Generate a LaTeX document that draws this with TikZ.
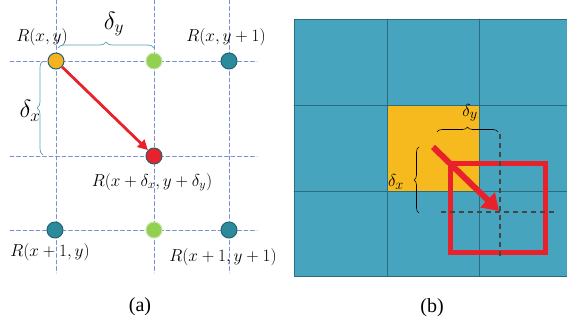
\documentclass[tikz,border=0pt]{standalone}
\usepackage{fontspec}
\setmainfont{Liberation Serif}
\usetikzlibrary{arrows.meta,decorations.pathreplacing}
\definecolor{gridblue}{RGB}{122,142,212}
\definecolor{braceteal}{RGB}{80,163,181}
\definecolor{orangept}{RGB}{246,178,33}
\definecolor{greenpt}{RGB}{146,208,80}
\definecolor{greenedge}{RGB}{197,230,168}
\definecolor{tealpt}{RGB}{43,138,156}
\definecolor{darkteal}{RGB}{35,100,115}
\definecolor{redpt}{RGB}{232,33,43}
\definecolor{cellteal}{RGB}{71,164,190}
\definecolor{cellline}{RGB}{42,109,127}
\definecolor{cellyellow}{RGB}{246,186,31}
\definecolor{darkdash}{RGB}{70,70,70}
\begin{document}
\begin{tikzpicture}[x=1pt,y=-1pt,line cap=round,line join=round,>=stealth,
    gridline/.style={gridblue,line width=0.8pt,dash pattern=on 4pt off 2.5pt},
    pt/.style={circle,minimum size=16pt,inner sep=0pt,line width=1pt},
    lbl/.style={font=\fontsize{17}{19}\selectfont},
    bigdelta/.style={font=\fontsize{25}{27}\selectfont},
    smalldelta/.style={font=\fontsize{19}{21}\selectfont},
    capt/.style={font=\fontsize{20}{22}\selectfont},
    bracea/.style={draw=braceteal,line width=0.7pt,decorate,decoration={brace,amplitude=6pt}},
    braceb/.style={draw=black,line width=0.6pt,decorate,decoration={brace,amplitude=5pt}},
    dashb/.style={darkdash,line width=1.6pt,line cap=butt,dash pattern=on 5pt off 4pt}]
\useasboundingbox (0,0) rectangle (567,329);
% (a) sampling grid
\foreach \x in {56,154,229}
  \draw[gridline] (\x,0) -- (\x,273);
\foreach \y in {61,156,230}
  \draw[gridline] (10,\y) -- (257,\y);
\draw[bracea] (58,48) -- (154,48);
\draw[bracea] (43,155) -- (43,61);
\node[pt,fill=orangept,draw=darkteal] (rxy) at (56,61) {};
\node[pt,fill=greenpt,draw=greenedge] (gtop) at (154,61) {};
\node[pt,fill=tealpt,draw=darkteal] (rxy1) at (229,61) {};
\node[pt,fill=redpt,draw=darkteal] (rd) at (154,156) {};
\node[pt,fill=tealpt,draw=darkteal] (rx1y) at (55,230) {};
\node[pt,fill=greenpt,draw=greenedge] (gbot) at (154,230) {};
\node[pt,fill=tealpt,draw=darkteal] (rx1y1) at (229,230) {};
\draw[redpt,line width=2.8pt,line cap=butt,-{Triangle[length=10pt,width=10pt]}] (rxy) -- (rd);
\node[lbl] (lrxy) at (42,37) {$R(x, y)$};
\node[lbl] (lrxy1) at (226,37) {$R(x, y+1)$};
\node[lbl] (lrd) at (152,182) {$R(x+\delta_x, y+\delta_y)$};
\node[lbl] (lrx1y) at (50,252) {$R(x+1, y)$};
\node[lbl] (lrx1y1) at (223,257) {$R(x+1, y+1)$};
\node[bigdelta] (ldy) at (114,24) {$\delta_y$};
\node[bigdelta] (ldx) at (30,111) {$\delta_x$};
\node[capt] (capa) at (140,307) {(a)};
% (b) feature map
\fill[cellteal] (294,19) rectangle (567,276);
\fill[cellyellow] (387,105) rectangle (479,191);
\draw[cellline,line width=0.9pt] (294,19) rectangle (567,276);
\draw[cellline,line width=0.9pt] (387,19) -- (387,276) (479,19) -- (479,276)
  (294,105) -- (567,105) (294,191) -- (567,191);
\draw[braceb] (437,132) -- (498,132);
\draw[braceb] (419,213) -- (419,147);
\draw[redpt,line width=5pt,line cap=butt,line join=miter] (450,163) rectangle (545,252);
\draw[dashb] (500,134) -- (500,258);
\draw[dashb] (441,212) -- (555,212);
\coordinate (bs) at (433,147);
\coordinate (bt) at (499,211);
\draw[redpt,line width=6pt,line cap=butt,-{Triangle[length=16pt,width=20pt]}] (bs) -- (bt);
\node[smalldelta] (bdy) at (470,113) {$\delta_y$};
\node[smalldelta] (bdx) at (396,182) {$\delta_x$};
\node[capt] (capb) at (432,308) {(b)};
\end{tikzpicture}
\end{document}
